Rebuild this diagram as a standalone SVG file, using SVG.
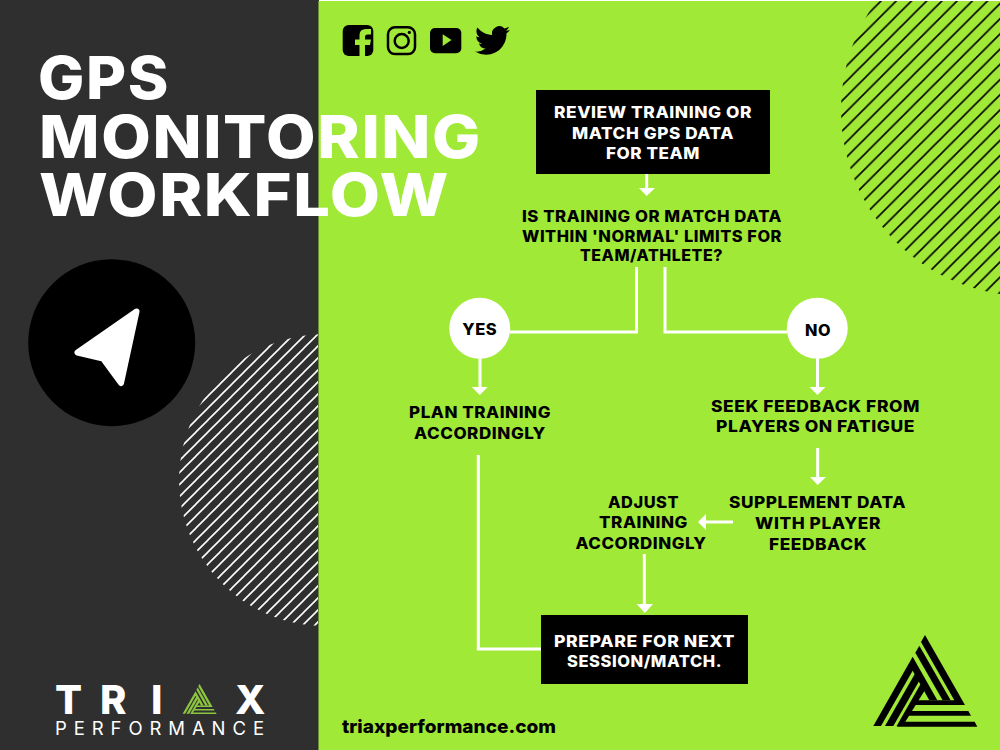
<svg xmlns="http://www.w3.org/2000/svg" xmlns:xlink="http://www.w3.org/1999/xlink" width="1000" height="750" viewBox="0 0 1000 750">
<style>
.t{font-family:"Inter","Liberation Sans",sans-serif;font-weight:800;font-size:15.5px;text-anchor:middle;fill:#000;letter-spacing:.5px}
.w{fill:#fff}
.title{font-family:"Inter","Liberation Sans",sans-serif;font-weight:800;font-size:59px;fill:#fff;letter-spacing:1.5px}
.c{fill:none;stroke:#fff;stroke-width:3}
.h{fill:#fff}
</style>
<defs>
<pattern id="hatchK" width="15.2" height="15.2" patternUnits="userSpaceOnUse" patternTransform="translate(0.4 0)"><path d="M-1 1L1 -1M0 15.2L15.2 0M14.2 16.2L16.2 14.2" stroke="#000" stroke-width="1.6" fill="none"/></pattern>
<pattern id="hatchW" width="12" height="12" patternUnits="userSpaceOnUse" patternTransform="translate(4 0)"><path d="M-1 1L1 -1M0 12L12 0M11 13L13 11" stroke="#fff" stroke-width="1.6" fill="none"/></pattern>
<clipPath id="leftClip"><rect x="0" y="0" width="318" height="750"/></clipPath>
<clipPath id="rightClip"><rect x="320" y="1" width="680" height="749"/></clipPath>
<g id="logoShape">
<polygon points="40,303 158,95 232,226 208,226 158,137 63,303"/>
<polygon points="75,303 170,137 183,158 100,303"/>
<polygon points="110,303 187,168 201,185 128,303"/>
<polygon points="195,30 315,240 160,240 170,226 283,226 183,51"/>
<polygon points="178,62 272,226 248,226 166,83"/>
<polygon points="150,258 325,258 333,272 142,272"/>
<polygon points="125,290 344,290 352,305 110,305"/>
</g>
</defs>
<rect width="1000" height="750" fill="#fff"/>
<rect id="darkPanel" x="0" y="0" width="319" height="750" fill="#2f2f2f"/>
<rect id="greenPanel" x="318.500" y="1" width="681.500" height="749" fill="#a1e937"/>
<circle id="hatchRight" cx="1027" cy="110" r="186" fill="url(#hatchK)" clip-path="url(#rightClip)"/>
<circle id="hatchLeft" cx="325" cy="480" r="146" fill="url(#hatchW)" clip-path="url(#leftClip)"/>
<g id="title" class="title">
<text x="38" y="99" textLength="132" lengthAdjust="spacingAndGlyphs">GPS</text>
<text x="39" y="158" textLength="443" lengthAdjust="spacingAndGlyphs">MONITORING</text>
<text x="39" y="216" textLength="411" lengthAdjust="spacingAndGlyphs">WORKFLOW</text>
</g>
<g id="navIcon">
<circle cx="111.700" cy="342.700" r="83.500" fill="#000"/>
<polygon points="136.500,311.500 77.500,352.500 103,358.500 121,383" fill="#fff" stroke="#fff" stroke-width="6" stroke-linejoin="round"/>
</g>
<g id="social">
<g id="facebook">
<rect x="342.700" y="25" width="30.600" height="31" rx="6" fill="#000"/>
<path d="M359.500 56V45H355V39.500H359.500V35Q359.500 29 366 29H371V34.500H367.500Q365 34.500 365 37V39.500H371L370 45H365V56Z" fill="#a1e937"/>
</g>
<g id="instagram" fill="none" stroke="#000" stroke-width="2.500">
<rect x="388" y="27.300" width="27" height="26.800" rx="7"/>
<circle cx="401.700" cy="41" r="7"/>
<circle cx="409.300" cy="32.400" r="1.600" fill="#000" stroke="none"/>
</g>
<g id="youtube">
<rect x="430" y="28" width="31.300" height="25.300" rx="5" fill="#000"/>
<polygon points="442.700,34.300 442.700,46 451.500,40" fill="#a1e937"/>
</g>
<path id="twitter" transform="translate(475 23) scale(1.460)" fill="#000" d="M23.953 4.570a10 10 0 01-2.825.775 4.958 4.958 0 002.163-2.723c-.951.555-2.005.959-3.127 1.184a4.920 4.920 0 00-8.384 4.482C7.690 8.095 4.067 6.130 1.640 3.162a4.822 4.822 0 00-.666 2.475c0 1.710.870 3.213 2.188 4.096a4.904 4.904 0 01-2.228-.616v.060a4.923 4.923 0 003.946 4.827 4.996 4.996 0 01-2.212.085 4.936 4.936 0 004.604 3.417 9.867 9.867 0 01-6.102 2.105c-.390 0-.779-.023-1.170-.067a13.995 13.995 0 007.557 2.209c9.053 0 13.998-7.496 13.998-13.985 0-.210 0-.420-.015-.630A9.935 9.935 0 0024 4.590z"/>
</g>
<g id="connectors">
<path class="c" d="M646.700 174V189"/>
<polygon class="h" points="639,188 655,188 646.700,196"/>
<path class="c" d="M636.500 267V332H510"/>
<path class="c" d="M665 267V332H787"/>
<path class="c" d="M480 358V388"/>
<polygon class="h" points="471.700,387 487.700,387 479.800,395"/>
<path class="c" d="M817.500 358V388"/>
<polygon class="h" points="809.500,387 825.500,387 817.500,395"/>
<path class="c" d="M817.700 448V478"/>
<polygon class="h" points="810,477 826,477 817.700,485"/>
<path class="c" d="M733 522H705"/>
<polygon class="h" points="706,514 706,530 698,522"/>
<path class="c" d="M644.300 554V605"/>
<polygon class="h" points="636.700,604 653,604 644.800,613"/>
<path class="c" d="M478.300 455V649H541"/>
</g>
<g id="nodeReview">
<rect x="536" y="90" width="234" height="84" fill="#000"/>
<text class="t w" x="653" y="118" textLength="198" lengthAdjust="spacingAndGlyphs">REVIEW TRAINING OR</text>
<text class="t w" x="653" y="139" textLength="162" lengthAdjust="spacingAndGlyphs">MATCH GPS DATA</text>
<text class="t w" x="653" y="159" textLength="94" lengthAdjust="spacingAndGlyphs">FOR TEAM</text>
</g>
<g id="nodeQuestion">
<text class="t" x="652" y="222" textLength="260" lengthAdjust="spacingAndGlyphs">IS TRAINING OR MATCH DATA</text>
<text class="t" x="652" y="241.500" textLength="260" lengthAdjust="spacingAndGlyphs">WITHIN 'NORMAL' LIMITS FOR</text>
<text class="t" x="651.500" y="261" textLength="143" lengthAdjust="spacingAndGlyphs">TEAM/ATHLETE?</text>
</g>
<g id="nodeYes">
<circle cx="479.700" cy="328.300" r="30.500" fill="#fff"/>
<text class="t" x="479.700" y="335" textLength="35" lengthAdjust="spacingAndGlyphs">YES</text>
</g>
<g id="nodeNo">
<circle cx="817.300" cy="328.300" r="30.500" fill="#fff"/>
<text class="t" x="818" y="336" textLength="26" lengthAdjust="spacingAndGlyphs">NO</text>
</g>
<g id="nodePlan">
<text class="t" x="480" y="418" textLength="142" lengthAdjust="spacingAndGlyphs">PLAN TRAINING</text>
<text class="t" x="480" y="439" textLength="132" lengthAdjust="spacingAndGlyphs">ACCORDINGLY</text>
</g>
<g id="nodeSeek">
<text class="t" x="815.500" y="412" textLength="209" lengthAdjust="spacingAndGlyphs">SEEK FEEDBACK FROM</text>
<text class="t" x="815.500" y="432" textLength="199" lengthAdjust="spacingAndGlyphs">PLAYERS ON FATIGUE</text>
</g>
<g id="nodeSupplement">
<text class="t" x="817.500" y="508" textLength="177" lengthAdjust="spacingAndGlyphs">SUPPLEMENT DATA</text>
<text class="t" x="818" y="529" textLength="126" lengthAdjust="spacingAndGlyphs">WITH PLAYER</text>
<text class="t" x="818" y="550" textLength="98" lengthAdjust="spacingAndGlyphs">FEEDBACK</text>
</g>
<g id="nodeAdjust">
<text class="t" x="643.500" y="508" textLength="71" lengthAdjust="spacingAndGlyphs">ADJUST</text>
<text class="t" x="643.500" y="528" textLength="89" lengthAdjust="spacingAndGlyphs">TRAINING</text>
<text class="t" x="641" y="549" textLength="131" lengthAdjust="spacingAndGlyphs">ACCORDINGLY</text>
</g>
<g id="nodePrepare">
<rect x="541" y="615" width="207" height="69" fill="#000"/>
<text class="t w" x="644.500" y="647" textLength="181" lengthAdjust="spacingAndGlyphs">PREPARE FOR NEXT</text>
<text class="t w" x="644.500" y="667" textLength="155" lengthAdjust="spacingAndGlyphs">SESSION/MATCH.</text>
</g>
<g id="triaxLogo">
<text x="55 100 151" y="713.500" style="font-family:'Inter','Liberation Sans',sans-serif;font-weight:800;font-size:40px" fill="#fff">TRI</text>
<text x="235" y="713.500" style="font-family:'Inter','Liberation Sans',sans-serif;font-weight:800;font-size:40px" fill="#fff">X</text>
<use xlink:href="#logoShape" href="#logoShape" transform="translate(178.300 680.800) scale(.109)" fill="#8cc63f"/>
<text x="55" y="735" textLength="209" style="font-family:'Inter','Liberation Sans',sans-serif;font-weight:400;font-size:18.500px" fill="#fff">PERFORMANCE</text>
</g>
<text id="url" x="342" y="733" textLength="214" lengthAdjust="spacingAndGlyphs" style="font-family:'Inter','Liberation Sans',sans-serif;font-weight:800;font-size:18.500px" fill="#000">triaxperformance.com</text>
<use id="cornerLogo" xlink:href="#logoShape" href="#logoShape" transform="translate(860 625) scale(.3333)" fill="#000"/>
</svg>
